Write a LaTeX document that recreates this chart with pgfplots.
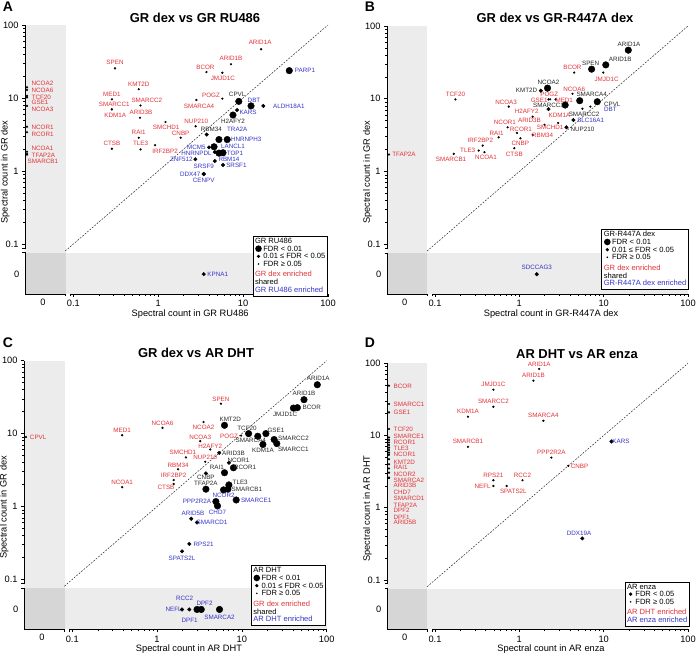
\documentclass[border=0pt]{standalone}
\usepackage{fontspec}
\setmainfont{Liberation Sans}
\usepackage{pgfplots}
\pgfplotsset{compat=1.18}
\usepackage{pgfplotstable}

\definecolor{lr}{RGB}{226,50,56}
\definecolor{lb}{RGB}{52,52,200}
\definecolor{lk}{RGB}{40,40,40}
\definecolor{sg}{RGB}{236,236,236}
\definecolor{cg}{RGB}{214,214,214}

\newcommand\XZ{0.0285}
\newcommand\YZ{0.0388}
\newcommand\lblfont{\fontsize{6.3}{6.5}\selectfont}
\newcommand\legfont{\fontsize{7.6}{7.7}\selectfont}
\newcommand\tickfont{\fontsize{9.3}{10}\selectfont}

% label spec: colour/align/dx/dy/text
\def\parselab#1/#2/#3/#4/#5\relax{\smash{\rlap{\hspace*{#3bp}\raisebox{\dimexpr#4bp-2.2bp\relax}{\makebox[0pt][#2]{\textcolor{#1}{\lblfont #5}}}}}}

\pgfplotsset{
  scale only axis, xmode=log, ymode=log,
  xmin=0.027, xmax=100, ymin=0.0206, ymax=100,
  axis x line*=bottom, axis y line*=left,
  axis line style={draw=none},
  tick align=outside,
  xtick={0.1,1,10,100}, xticklabels={0.1,1,10,100},
  ytick={0.1,1,10,100}, yticklabels={0.1,1,10,100},
  minor xtick={0.2,0.3,0.4,0.5,0.6,0.7,0.8,0.9,2,3,4,5,6,7,8,9,20,30,40,50,60,70,80,90},
  minor ytick={0.2,0.3,0.4,0.5,0.6,0.7,0.8,0.9,2,3,4,5,6,7,8,9,20,30,40,50,60,70,80,90},
  major tick length=3bp, minor tick length=1.8bp,
  every tick/.append style={black, line width=0.6bp},
  tick label style={font=\tickfont},
  every axis label/.append style={font=\tickfont},
  every axis x label/.append style={at={(ticklabel cs:0.545)}, yshift=4bp},
  every axis y label/.append style={at={(rel axis cs:-0.065,0.454)}, anchor=center},
  clip=false,
}

% zero counts are drawn on the broken-axis strips (the trafo also takes the log)
\pgfplotsset{
  zeromap/.style={
    x coord trafo/.code={\pgfmathparse{ln(ifthenelse(##1==0,\XZ,##1))}},
    y coord trafo/.code={\pgfmathparse{ln(ifthenelse(##1==0,\YZ,##1))}},
  }
}

\newcommand\pl[2]{\addplot[only marks, mark=*, black, mark size=#1, mark options={draw=none},
   point meta=explicit symbolic,
   nodes near coords={\expandafter\parselab\pgfplotspointmeta\relax},
   nodes near coords style={anchor=center, inner sep=0pt, outer sep=0pt}]
   table[x=x, y=y, meta=lab] {#2};}

\newcommand\deco{%
 \fill[sg] (axis cs:0.027,0.0206) rectangle (axis cs:0.0805,100);
 \fill[sg] (axis cs:0.0805,0.0206) rectangle (axis cs:100,0.075);
 \fill[cg] (axis cs:0.027,0.0206) rectangle (axis cs:0.0805,0.075);
 \draw[line width=0.9bp] (axis cs:0.027,100) -- (axis cs:0.027,0.088) -- ([xshift=-2.5bp]axis cs:0.027,0.088);
 \draw[line width=0.9bp] ([xshift=-2.5bp]axis cs:0.027,0.075) -- (axis cs:0.027,0.075) -- (axis cs:0.027,0.0206) -- (axis cs:0.0805,0.0206) -- ([yshift=-2.5bp]axis cs:0.0805,0.0206);
 \draw[line width=0.9bp] ([yshift=-2.5bp]axis cs:0.092,0.0206) -- (axis cs:0.092,0.0206) -- (axis cs:100,0.0206);
 \node[anchor=north, font=\tickfont, inner sep=0pt] at ([yshift=-4.5bp]axis cs:0.0437,0.0206) {0};
 \node[anchor=east, font=\tickfont, inner sep=0pt] at ([xshift=-5.5bp]axis cs:0.027,0.0388) {0};
 \draw[lk, line width=0.5bp, dash pattern=on 1.8bp off 1.4bp] (axis cs:0.08,0.08) -- (axis cs:100,100);
}

\newcommand\mk[1]{\makebox[7bp][c]{\tikz[baseline=-2.6bp]\fill (0,0) circle (#1bp);}\,}

% ---------------- Panel A ----------------
\pgfplotstableread{
x y lab
35 23.7 lb/c/15.7/0/PARP1
8.9 9.0 lk/c/-1.6/6.7/CPVL
12.4 7.8 lb/c/3/6/DBT
7.6 5.85 lk/c/0/-5.8/H2AFY2
5.2 2.7 lb/c/18.3/10/TRA2A
6.5 2.7 lb/c/19/0/HNRNPH3
4.55 2.15 lb/c/19/0/LANCL1
5.8 1.78 lb/c/12/-0.6/TOP1
5.2 1.76 lb/c/10/-6.5/RBM14
}\AL
\pgfplotstableread{
x y lab
17.3 7.8 lb/c/25.6/0/ALDH18A1
8.5 6.85 lb/c/11/-2.7/KARS
3.73 3.16 lk/c/4.7/5/RBM34
3.97 2.11 lb/c/-12.6/0/MCM5
4.64 1.82 lb/c/-18.3/-1.3/HNRNPDL
2.74 1.45 lb/c/-14/0/ZNF512
4.64 1.37 lb/c/-11/-5/SRSF9
5.8 1.21 lb/c/13.4/0/SRSF1
3.44 0.91 lb/c/-13.5/0/DDX47
3.44 0.91 lb/c/0/-6/CENPV
3.44 0 lb/c/14/0/KPNA1
}\AM
\pgfplotstableread{
x y lab
16.3 46.5 lr/c/-1/6.5/ARID1A
7.2 29 lr/c/0/5.7/ARID1B
3.7 22.7 lr/c/-1/5/BCOR
5.7 22.2 lr/c/0.5/-6/JMJD1C
0.31 25.5 lr/c/0/5.6/SPEN
0.59 13.2 lr/c/0/4.7/KMT2D
0.285 9.6 lr/c/0/5.3/MED1
0.285 7.0 lr/c/2.3/5/SMARCC1
0.285 7.0 lr/c/3.3/-6.4/KDM1A
0.62 7.9 lr/c/6.3/5.3/SMARCC2
0.61 5.37 lr/c/1/5/ARID3B
2.82 9.4 lr/c/2.6/-6/SMARCA4
5.7 9.8 lr/c/-11.4/3.7/POGZ
2.76 4.1 lr/c/0.7/4.5/NUP210
1.22 4.7 lr/c/0.7/-5.3/SMCHD1
1.84 2.86 lr/c/0/4.4/CNBP
0.59 2.86 lr/c/0/5/RAI1
0.62 1.98 lr/c/0/6/TLE3
0.92 2.26 lr/c/10/-5.7/IRF2BP2
0.285 2.02 lr/c/0/5.4/CTSB
0 14.0 lr/l/4.7/4/NCOA2
0 12.9 lr/l/4.7/0/NCOA6
0 10.7 lr/l/4.7/-1/TCF20
0 10.2 lr/l/4.7/-5.4/GSE1
0 7.8 lr/l/4.7/-3/NCOA3
0 4.05 lr/l/4.7/-1/NCOR1
0 3.4 lr/l/4.7/-2/RCOR1
0 1.84 lr/l/4.7/3.4/NCOA1
0 1.71 lr/l/4.7/-1/TFAP2A
0 1.68 lr/l/0.7/-7.2/SMARCB1
}\AS

% ---------------- Panel B ----------------
\pgfplotstableread{
x y lab
19.6 46.5 lk/c/0.7/6/ARID1A
10.6 29.2 lk/c/14.4/5.7/ARID1B
7.2 25.5 lk/c/-1/6.3/SPEN
2.16 14.0 lk/c/1/6.3/NCOA2
5.2 9.4 lk/c/12/6/SMARCA4
8.4 9.1 lk/c/15/-2.3/CPVL
3.5 8.2 lk/c/-16.7/0/SMARCC1
}\BL
\pgfplotstableread{
x y lab
1.8 12.9 lk/c/-14.3/0/KMT2D
2.22 7.2 lr/c/11/-5.7/KDM1A
4.38 5.1 lb/c/17.3/0/SLC16A1
3.62 4.05 lk/c/16/-1.6/NUP210
1.61 0 lb/c/0/7/SDCCAG3
}\BM
\pgfplotstableread{
x y lab
4.47 22.9 lr/c/-1.7/5/BCOR
9.9 22.9 lr/c/3.3/-6.3/JMJD1C
4.27 11.7 lr/c/1.7/4.7/NCOA6
2.22 9.8 lr/c/0.7/4.7/POGZ
2.32 9.8 lr/c/-11/-0.6/GSE1
2.69 9.8 lr/c/8.7/-0.6/MED1
5.6 7.3 lk/c/1.7/-5.3/SMARCC2
6.96 7.8 lb/c/20/-2.3/DBT
0.175 9.8 lr/c/0/4.7/TCF20
0.75 7.8 lr/c/-2.7/4.3/NCOA3
1.44 5.67 lr/c/-6/5/H2AFY2
1.99 4.4 lr/c/-15/4/ARID3B
2.89 4.65 lr/c/-8/-4.5/SMCHD1
0.727 4.05 lr/c/-2.7/5/NCOR1
0.937 3.39 lr/c/4/4/RCOR1
0.569 2.95 lr/c/-2/4/RAI1
1.44 3.18 lr/c/10/0/RBM34
1.03 2.86 lr/c/0/-5/CNBP
0.368 2.27 lr/c/-2.3/5/IRF2BP2
0.33 1.94 lr/c/-11/0/TLE3
0.873 2.09 lr/c/0/-5.6/CTSB
0.386 1.84 lr/c/1.6/-5/NCOA1
0.167 1.75 lr/c/-2.7/-5/SMARCB1
0 1.71 lr/l/3.3/0/TFAP2A
}\BS

% ---------------- Panel C ----------------
\pgfplotstableread{
x y lab
77.5 46.8 lk/c/1/6/ARID1A
54 29.2 lk/c/0/6/ARID1B
45.1 22.7 lk/c/14.4/0/BCOR
40.5 22.4 lk/c/-8.3/-6.3/JMJD1C
6.24 13.0 lk/c/5.7/5.7/KMT2D
12.0 10.0 lk/c/-1.6/5.6/TCF20
19.2 10.0 lk/c/10/3.3/GSE1
15.4 9.2 lk/c/-7/-4.5/SMARCA4
24 8.3 lk/c/19.3/1/SMARCC2
25.8 7.3 lk/c/16.6/-6/SMARCC1
17.7 7.1 lk/c/0/-5.7/KDM1A
7.96 3.4 lk/c/11.7/0/RCOR1
6.24 2.91 lk/c/-7.6/5.4/RAI1
3.77 1.73 lk/c/0/6/TFAP2A
7.03 1.98 lk/c/11.3/2.3/TLE3
6.84 1.73 lk/c/19/0/SMARCB1
6.08 1.69 lb/c/0/-5/NCOR2
4.94 1.17 lb/c/-19/0/PPP2R2A
5.16 1.02 lb/c/0/-6.7/CHD7
8.57 1.23 lb/c/20/0/SMARCE1
2.96 0 lb/c/-7.4/-10.7/DPF1
3.32 0 lb/c/3.3/6.6/DPF2
5.45 0 lb/c/0/-7.4/SMARCA2
}\CL
\pgfplotstableread{
x y lab
5.41 5.45 lk/c/14.3/0/ARID3B
7.03 3.98 lk/c/9.6/2.7/NCOR1
3.77 2.85 lk/c/0/-4.4/CNBP
2.53 0.68 lb/c/1.7/5.7/ARID5B
2.96 0.605 lb/c/15/0/SMARCD1
2.4 0.307 lb/c/14.3/0/RPS21
1.97 0.243 lb/c/0/-6.6/SPATS2L
1.97 0 lb/c/-8.4/0/NEFL
2.4 0 lb/c/-4.7/11/RCC2
}\CM
\pgfplotstableread{
x y lab
5.66 25.7 lr/c/0/4.3/SPEN
3.53 14.4 lr/c/0/-5/NCOA2
1.16 12.0 lr/c/0/5/NCOA6
0.388 9.5 lr/c/0/5/MED1
0 9.0 lr/l/4/0/CPVL
9.8 9.4 lr/c/-12/-0.5/POGZ
3.23 7.88 lr/c/0/3.7/NCOA3
4.24 6.07 lr/c/0/3.6/H2AFY2
2.19 4.72 lr/c/-3/4.6/SMCHD1
3.7 4.11 lr/c/0/4.4/NUP210
1.77 3.24 lr/c/0/4.3/RBM34
1.57 2.31 lr/c/0/4.3/IRF2BP2
0.388 1.84 lr/c/0/4.6/NCOA1
1.57 2.04 lr/c/-7.6/-3.3/CTSB
}\CS

% ---------------- Panel D ----------------
\pgfplotstableread{
x y lab
12.4 8.26 lb/c/9.4/0/KARS
5.58 0.376 lb/c/-3.3/5.6/DDX19A
}\DM
\pgfplotstableread{
x y lab
1.72 83.6 lr/c/0/5/ARID1A
1.47 57.5 lr/c/0/5/ARID1B
0.493 43.1 lr/c/0/5/JMJD1C
0.493 25.0 lr/c/0/5/SMARCC2
0.246 18.2 lr/c/0/5/KDM1A
1.93 16.0 lr/c/0/5.3/SMARCA4
0.246 6.97 lr/c/0/5.3/SMARCB1
2.4 4.95 lr/c/0/5/PPP2R2A
3.81 3.8 lr/c/11.3/0/CNBP
0.493 2.4 lr/c/0/5/RPS21
1.09 2.4 lr/c/0/5/RCC2
0.493 2.0 lr/c/-10.7/0/NEFL
0.708 2.0 lr/c/6.7/-5.7/SPATS2L
0 49.0 lr/l/4.7/-1/BCOR
0 27.3 lr/l/4.7/0/SMARCC1
0 20.9 lr/l/4.7/0/GSE1
0 12.3 lr/l/4.7/0/TCF20
0 9.4 lr/l/4.7/0.7/SMARCE1
0 8.7 lr/l/4.7/-2.7/RCOR1
0 8.0 lr/l/4.7/-5.6/TLE3
0 7.4 lr/l/4.7/-9.7/NCOR1
0 6.8 lr/l/4.7/-14.3/KMT2D
0 6.3 lr/l/4.7/-17.7/RAI1
0 5.8 lr/l/4.7/-21.6/NCOR2
0 5.4 lr/l/4.7/-25/SMARCA2
0 4.7 lr/l/4.7/-26/ARID3B
0 4.0 lr/l/4.7/-27.7/CHD7
0 3.5 lr/l/4.7/-30/SMARCD1
0 3.06 lr/l/4.7/-32.3/TFAP2A
0 2.6 lr/l/4.7/-32.6/DPF2
0 2.6 lr/l/4.7/-39.3/DPF1
0 2.6 lr/l/4.7/-45/ARID5B
}\DS

\begin{document}
\begin{tikzpicture}
\useasboundingbox (0,0) rectangle (696bp,657bp);

% Panel A
\begin{axis}[zeromap, at={(25bp,363bp)}, anchor=south west, width=303bp, height=269bp,
  xlabel={Spectral count in GR RU486}, ylabel={Spectral count in GR dex}]
\deco
\pl{0.9bp}{\AS}
\pl{1.8bp}{\AM}
\pl{3.3bp}{\AL}
\end{axis}

% Panel B
\begin{axis}[zeromap, at={(387bp,363bp)}, anchor=south west, width=301bp, height=268bp,
  xlabel={Spectral count in GR-R447A dex}, ylabel={Spectral count in GR dex}]
\deco
\pl{0.9bp}{\BS}
\pl{1.8bp}{\BM}
\pl{3.3bp}{\BL}
\end{axis}

% Panel C
\begin{axis}[zeromap, at={(24bp,27.7bp)}, anchor=south west, width=302.7bp, height=268.6bp,
  xlabel={Spectral count in AR DHT}, ylabel={Spectral count in GR dex}]
\deco
\pl{0.9bp}{\CS}
\pl{1.8bp}{\CM}
\pl{3.3bp}{\CL}
\end{axis}

% Panel D
\begin{axis}[zeromap, at={(387bp,27.7bp)}, anchor=south west, width=301bp, height=266bp,
  xlabel={Spectral count in AR enza}, ylabel={Spectral count in AR DHT}]
\deco
\pl{0.9bp}{\DS}
\pl{1.8bp}{\DM}
\end{axis}

% Titles and letters
\node[font=\bfseries\fontsize{13}{15}\selectfont] at (195bp,639bp) {GR dex vs GR RU486};
\node[font=\bfseries\fontsize{13}{15}\selectfont] at (555bp,639bp) {GR dex vs GR-R447A dex};
\node[font=\bfseries\fontsize{13}{15}\selectfont] at (196bp,304bp) {GR dex vs AR DHT};
\node[font=\bfseries\fontsize{13}{15}\selectfont] at (577bp,303bp) {AR DHT vs AR enza};
\node[font=\bfseries\fontsize{14}{15}\selectfont] at (8bp,650bp) {A};
\node[font=\bfseries\fontsize{14}{15}\selectfont] at (370bp,650bp) {B};
\node[font=\bfseries\fontsize{14}{15}\selectfont] at (8bp,314bp) {C};
\node[font=\bfseries\fontsize{14}{15}\selectfont] at (370bp,314bp) {D};

% Legends
\node[draw=black, line width=0.8bp, fill=white, anchor=south east, inner xsep=2bp, inner ysep=1.5bp, font=\legfont] at (327.7bp,360.3bp) {%
 \begin{tabular}{@{}l@{}}
 GR RU486\\
 \mk{3.3}FDR < 0.01\\
 \mk{1.8}0.01 ≤ FDR < 0.05\\
 \mk{0.9}FDR ≥ 0.05\\[2.5bp]
 \textcolor{lr}{GR dex enriched}\\
 shared\\
 \textcolor{lb}{GR RU486 enriched}
 \end{tabular}};
\node[draw=black, line width=0.8bp, fill=white, anchor=south east, inner xsep=2bp, inner ysep=1.5bp, font=\legfont] at (688.7bp,367bp) {%
 \begin{tabular}{@{}l@{}}
 GR-R447A dex\\
 \mk{3.3}FDR < 0.01\\
 \mk{1.8}0.01 ≤ FDR < 0.05\\
 \mk{0.9}FDR ≥ 0.05\\[2.5bp]
 \textcolor{lr}{GR dex enriched}\\
 shared\\
 \textcolor{lb}{GR-R447A dex enriched}
 \end{tabular}};
\node[draw=black, line width=0.8bp, fill=white, anchor=south east, inner xsep=2bp, inner ysep=1.5bp, font=\legfont] at (326bp,31bp) {%
 \begin{tabular}{@{}l@{}}
 AR DHT\\
 \mk{3.3}FDR < 0.01\\
 \mk{1.8}0.01 ≤ FDR < 0.05\\
 \mk{0.9}FDR ≥ 0.05\\[2.5bp]
 \textcolor{lr}{GR dex enriched}\\
 shared\\
 \textcolor{lb}{AR DHT enriched}
 \end{tabular}};
\node[draw=black, line width=0.8bp, fill=white, anchor=south east, inner xsep=2bp, inner ysep=1.5bp, font=\legfont] at (689.7bp,30.3bp) {%
 \begin{tabular}{@{}l@{}}
 AR enza\\
 \mk{1.8}FDR < 0.05\\
 \mk{0.9}FDR ≥ 0.05\\[2.5bp]
 \textcolor{lr}{AR DHT enriched}\\
 \textcolor{lb}{AR enza enriched}
 \end{tabular}};
\end{tikzpicture}
\end{document}
